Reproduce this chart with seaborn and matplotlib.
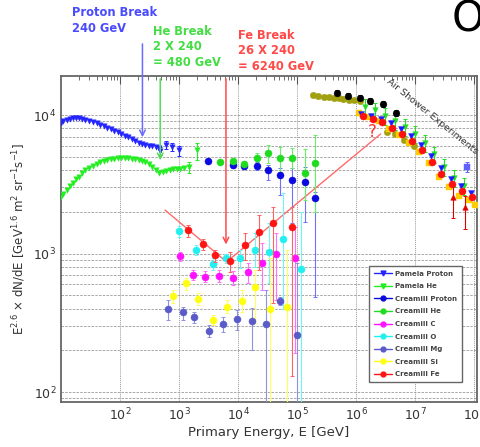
import numpy as np
import pandas as pd
import matplotlib
matplotlib.use("Agg")
import matplotlib.pyplot as plt
from matplotlib.lines import Line2D
from matplotlib.ticker import LogLocator, NullFormatter
import seaborn as sns

# ---------------- data ----------------
pam_p_E = [10, 11, 12.5, 14, 16, 18, 20, 23, 26, 30, 35, 40, 46, 53, 61, 70, 80, 92, 105, 120,
           138, 158, 180, 207, 237, 270, 310, 355, 405, 460]
pam_p_F = [8750, 9000, 9250, 9400, 9500, 9520, 9480, 9350, 9200, 9050, 8900, 8700, 8500, 8300, 8100,
           7900, 7700, 7500, 7300, 7100, 6900, 6700, 6500, 6300, 6150, 6050, 5990, 5960, 5920, 5800]
pam_p_E2 = [480, 600, 760, 1000]
pam_p_F2 = [5500, 6070, 5880, 5550]
pam_p_lo2 = [5150, 5700, 5500, 5100]
pam_p_hi2 = [5850, 6450, 6250, 6000]

pam_he_E = [10, 11, 12.5, 14, 16, 18, 20, 23, 26, 30, 35, 40, 46, 53, 61, 70, 80, 92, 105, 120,
            138, 158, 180, 207, 237, 270, 310, 355, 405, 460, 530, 610, 700, 800, 920, 1050, 1200]
pam_he_F = [2570, 2700, 2880, 3050, 3250, 3450, 3600, 3800, 3980, 4150, 4320, 4450, 4580, 4680, 4750,
            4800, 4850, 4880, 4900, 4900, 4880, 4830, 4780, 4720, 4650, 4550, 4400, 4250, 4000, 3800,
            3850, 3950, 4000, 4050, 4100, 4100, 4150]
pam_he_E2 = [1500, 2000]
pam_he_F2 = [4200, 5600]
pam_he_lo2 = [3800, 4700]
pam_he_hi2 = [4600, 6300]

cp_E = [3140, 8340, 12800, 20700, 32600, 51500, 81200, 137000, 202000]
cp_F = [4680, 4350, 4280, 4280, 4010, 3690, 3400, 3290, 2520]
cp_lo = [4500, 4150, 4050, 4000, 3400, 2640, 1660, 1700, 485]
cp_hi = [4850, 4550, 4500, 4550, 4350, 4120, 4140, 4200, 2800]

ch_E = [4950, 8340, 12800, 20700, 32600, 51500, 81200, 137000, 202000]
ch_F = [4600, 4650, 4420, 4870, 5290, 4900, 4900, 3800, 4480]
ch_lo = [4450, 4450, 4200, 4480, 4480, 3900, 4150, 2430, 1990]
ch_hi = [4750, 4850, 4650, 5300, 6070, 5900, 5800, 5700, 7180]

cc_E = [1040, 1710, 2760, 4820, 8340, 14600, 25100, 44100, 92500]
cc_F = [959, 700, 680, 690, 662, 731, 849, 986, 922]
cc_lo = [887, 644, 626, 626, 593, 610, 545, 461, 190]
cc_hi = [1030, 760, 745, 760, 745, 849, 1183, 1400, 1565]

co_E = [1000, 1940, 3720, 6260, 11000, 19400, 34000, 58600, 115000]
co_F = [1462, 1060, 839, 922, 922, 1060, 1030, 1265, 772]
co_lo = [1323, 975, 760, 849, 781, 803, 610, 400, 80]
co_hi = [1580, 1150, 922, 1000, 1060, 1400, 1650, 2740, 2000]

cm_E = [643, 1150, 1820, 3220, 5640, 9750, 17100, 29800, 51500, 101000]
cm_F = [395, 380, 346, 277, 310, 335, 328, 310, 456, 258]
cm_lo = [331, 331, 313, 251, 273, 281, 201, 80, 425, 80]
cm_hi = [461, 413, 380, 305, 350, 391, 402, 545, 488, 849]

cs_E = [782, 1315, 2120, 3720, 6430, 11500, 19400, 34800, 68600]
cs_F = [494, 615, 467, 331, 413, 456, 570, 395, 413]
cs_lo = [437, 545, 425, 305, 370, 380, 313, 80, 80]
cs_hi = [545, 662, 515, 360, 461, 545, 760, 922, 1060]

cf_E = [1440, 2580, 4070, 7310, 13100, 22700, 39700, 81200]
cf_F = [1478, 1165, 975, 887, 1160, 1438, 1653, 1546]
cf_lo = [1323, 1060, 873, 740, 897, 760, 437, 130]
cf_hi = [1607, 1266, 1060, 1030, 1400, 1897, 2180, 2180]

# air shower experiments
as_olive_E = [1.86e5, 2.3e5, 2.9e5, 3.5e5, 4.2e5, 5.1e5, 6.1e5, 7.6e5, 9.3e5, 1.17e6]
as_olive_F = [13900, 13700, 13500, 13400, 13300, 13200, 13000, 12900, 12800, 12700]
as_olive2_E = [3.3e6, 4.6e6, 6.5e6, 9.5e6]
as_olive2_F = [7600, 7300, 6600, 6000]
as_black_E = [4.8e5, 7.3e5, 1.17e6, 1.74e6, 2.9e6, 4.8e6]
as_black_F = [14400, 13700, 13300, 12600, 12000, 10300]
as_blue_E = [1.2e6, 1.8e6, 2.6e6, 3.9e6, 5.8e6, 8.5e6, 1.25e7, 1.85e7, 2.7e7, 4.0e7, 6.0e7, 8.8e7]
as_blue_F = [10200, 9800, 9300, 8700, 7900, 7100, 6100, 5100, 4150, 3450, 3050, 2750]
as_green_E = [1.4e6, 2.1e6, 3.1e6, 4.5e6, 6.7e6, 1.0e7, 1.45e7, 2.1e7, 3.1e7, 4.6e7, 6.8e7]
as_green_F = [11500, 10800, 9900, 9100, 8200, 7300, 6300, 5200, 4200, 3500, 3100]
as_yellow_E = [1.1e6, 1.6e6, 2.4e6, 3.6e6, 5.3e6, 8.0e6, 1.15e7, 1.7e7, 2.5e7, 3.7e7, 5.5e7, 8.1e7, 1.05e8]
as_yellow_F = [10300, 9700, 9000, 7900, 7200, 6300, 5400, 4500, 3600, 3000, 2600, 2450, 2250]
as_red_E = [1.3e6, 1.9e6, 2.8e6, 4.1e6, 6.1e6, 9.0e6, 1.3e7, 1.9e7, 2.8e7, 4.2e7, 6.2e7, 9.2e7]
as_red_F = [9900, 9400, 8900, 8100, 7300, 6500, 5600, 4600, 3750, 3200, 2850, 2550]
as_redtri_E = [4.4e7, 7.1e7]
as_redtri_F = [2560, 2160]
as_bluesq_E = [7.6e7]
as_bluesq_F = [4210]

# annotation guide (red V line) and break energies
vline_E = [580, 6400, 2.6e6]
vline_F = [2060, 870, 7300]
break_E = [240, 480, 6240]

x_ticks = [1e2, 1e3, 1e4, 1e5, 1e6, 1e7, 1e8]
x_ticklabels = [r"$10^{2}$", r"$10^{3}$", r"$10^{4}$", r"$10^{5}$", r"$10^{6}$", r"$10^{7}$", r"$10^{8}$"]

legend_labels = ["Pamela Proton", "Pamela He", "Creamill Proton", "Creamill He", "Creamill C",
                 "Creamill O", "Creamill Mg", "Creamill Si", "Creamill Fe"]

# ---------------- figure ----------------
sns.set_style("white")
plt.rcParams['font.family'] = ['DejaVu Sans']

W, H = 481, 447
fig = plt.figure(figsize=(W / 100, H / 100), dpi=100)
ax = fig.add_axes([61 / W, 1 - 402 / H, (477 - 61) / W, (402 - 76) / H])
ax.set_xscale("log")
ax.set_yscale("log")
ax.set_xlim(10, 1.12e8)
ax.set_ylim(84.7, 19150)

# ticks and grid
ax.yaxis.set_minor_locator(LogLocator(base=10, subs=np.arange(2, 10)))
ax.yaxis.set_minor_formatter(NullFormatter())
ax.set_xticks(x_ticks)
ax.set_xticklabels(x_ticklabels)
ax.xaxis.set_minor_locator(LogLocator(base=10, subs=np.arange(2, 10), numticks=12))
ax.xaxis.set_minor_formatter(NullFormatter())
ax.grid(True, which="both", axis="y", color="#9a9a9a", lw=0.6, ls=(0, (3, 1.5)))
ax.grid(True, which="major", axis="x", color="#9a9a9a", lw=0.7, ls=(0, (1, 1)))
ax.set_axisbelow(True)

ax.tick_params(which="both", direction="in", top=True, right=False, colors="#555555",
               labelcolor="#333333", labelsize=9)
ax.tick_params(which="major", length=6, width=0.8)
ax.tick_params(which="minor", length=3, width=0.6)
ax.tick_params(axis="y", which="minor", length=0)
for s in ax.spines.values():
    s.set_color("#666666")
    s.set_linewidth(1.3)

def series(E, F, color, marker, size, lo=None, hi=None, ecolor=None, z=3, elw=0.8):
    df = pd.DataFrame({"E": E, "F": F})
    if lo is not None:
        Fa = np.array(F, float)
        yerr = [Fa - np.array(lo, float), np.array(hi, float) - Fa]
        ax.errorbar(E, F, yerr=yerr, fmt="none", ecolor=ecolor or color, elinewidth=elw,
                    capsize=1.5, capthick=0.7, zorder=z - 0.5)
    sns.scatterplot(data=df, x="E", y="F", ax=ax, color=color, marker=marker, s=size,
                    edgecolor=color, linewidth=0.3, zorder=z, legend=False)

c_pp = "#2424ff"; c_ph = "#22ee22"; c_cp = "#0a0ae0"; c_ch = "#1fdc1f"
c_cc = "#ff10ff"; c_co = "#22f0f0"; c_cm = "#5a5ac8"; c_cs = "#ffff10"; c_cf = "#ff1414"

# Pamela
series(pam_p_E, pam_p_F, c_pp, "v", 15)
series(pam_p_E2, pam_p_F2, c_pp, "v", 15, pam_p_lo2, pam_p_hi2)
series(pam_he_E, pam_he_F, c_ph, "v", 15)
series(pam_he_E2, pam_he_F2, c_ph, "v", 15, pam_he_lo2, pam_he_hi2)

# Creamill
series(cp_E, cp_F, c_cp, "o", 26, cp_lo, cp_hi, ecolor="#7070ff", z=4)
series(ch_E, ch_F, c_ch, "o", 26, ch_lo, ch_hi, ecolor="#66ee66", z=4)
series(cc_E, cc_F, c_cc, "o", 26, cc_lo, cc_hi, ecolor="#ff70ff", z=4)
series(co_E, co_F, c_co, "o", 26, co_lo, co_hi, ecolor="#70f5f5", z=4)
series(cm_E, cm_F, c_cm, "o", 26, cm_lo, cm_hi, ecolor="#9090e0", z=4)
series(cs_E, cs_F, c_cs, "o", 26, cs_lo, cs_hi, ecolor="#ffff60", z=4)
series(cf_E, cf_F, c_cf, "o", 26, cf_lo, cf_hi, ecolor="#ff6060", z=5)

# Air shower experiments
series(as_olive_E, as_olive_F, "#a0a010", "o", 22, z=4)
series(as_black_E, as_black_F, "#000000", "o", 24,
       [f * 0.95 for f in as_black_F], [f * 1.05 for f in as_black_F], z=4)
series(as_olive2_E, as_olive2_F, "#a0a010", "o", 22, z=4)
series(as_yellow_E, as_yellow_F, "#ffcc00", "s", 20, z=4)
series(as_green_E, as_green_F, "#22dd22", "v", 16,
       [f * 0.86 for f in as_green_F], [f * 1.14 for f in as_green_F], z=4)
series(as_blue_E, as_blue_F, "#1a1aff", "v", 18, z=4.5)
series(as_red_E, as_red_F, "#ff1010", "o", 26, z=5)
series(as_redtri_E, as_redtri_F, "#dd0000", "^", 16,
       [f * 0.7 for f in as_redtri_F], [f * 1.2 for f in as_redtri_F], z=5)
series(as_bluesq_E, as_bluesq_F, "#6060ff", "s", 14,
       [f * 0.92 for f in as_bluesq_F], [f * 1.08 for f in as_bluesq_F], z=5)

# red V guide line and question mark
sns.lineplot(x=vline_E, y=vline_F, ax=ax, color="#ff6a6a", lw=1.0, zorder=3, sort=False)
ax.text(1.85e6, 7540, "?", color="#ff3030", fontsize=12, ha="center", va="center", zorder=6)

# break arrows
ax.annotate("", xy=(break_E[0], 6600), xytext=(break_E[0], 34200), xycoords="data",
            arrowprops=dict(arrowstyle="->", color="#6b6bff", lw=1.1, mutation_scale=10),
            annotation_clip=False, zorder=6)
ax.annotate("", xy=(break_E[1], 4500), xytext=(break_E[1], 19150),
            arrowprops=dict(arrowstyle="->", color="#55dd55", lw=1.1, mutation_scale=10),
            annotation_clip=False, zorder=6)
ax.annotate("", xy=(break_E[2], 1110), xytext=(break_E[2], 19150),
            arrowprops=dict(arrowstyle="->", color="#ff4a4a", lw=1.1, mutation_scale=10),
            annotation_clip=False, zorder=6)

def ftext(x, y, s, **kw):
    fig.text(x / W, 1 - y / H, s, **kw)

ftext(72, 6, "Proton Break\n240 GeV", color="#4a4aff", fontsize=8.3, fontweight="bold",
      va="top", ha="left", linespacing=1.25)
ftext(153, 25, "He Break\n2 X 240\n= 480 GeV", color="#44dd44", fontsize=8.3, fontweight="bold",
      va="top", ha="left", linespacing=1.25)
ftext(238, 29, "Fe Break\n26 X 240\n= 6240 GeV", color="#ff4a4a", fontsize=8.3, fontweight="bold",
      va="top", ha="left", linespacing=1.25)
ftext(432, 116, "Air Shower Experiments", color="#333333", fontsize=6.8, rotation=-39,
      ha="center", va="center", rotation_mode="anchor")
ftext(468, 20, "O", color="#000000", fontsize=30, ha="center", va="center")

# labels
ax.set_xlabel("Primary Energy, E [GeV]", fontsize=9.5, color="#333333", labelpad=2)
ax.set_ylabel(r"E$^{2.6}$ $\times$ dN/dE [GeV$^{1.6}$ m$^{2}$ sr$^{-1}$s$^{-1}$]", fontsize=8.5,
              color="#333333", labelpad=4)

# legend
handles = []
for lab, col, mk in zip(legend_labels,
                        [c_pp, c_ph, c_cp, c_ch, c_cc, c_co, c_cm, c_cs, c_cf],
                        ["v", "v", "o", "o", "o", "o", "o", "o", "o"]):
    handles.append(Line2D([0], [0], color=col, marker=mk, ms=3.5, lw=1.0, label=lab))
leg = ax.legend(handles=handles, loc="lower left", bbox_to_anchor=(0.733, 0.05),
                fontsize=5, frameon=True, fancybox=False, handlelength=2.6, labelspacing=0.95,
                borderpad=0.7, handletextpad=0.4, framealpha=1)
leg.get_frame().set_edgecolor("#666666")
leg.get_frame().set_linewidth(1.0)
for t in leg.get_texts():
    t.set_color("#444444")
    t.set_fontweight("bold")
leg.set_zorder(10)

fig.savefig("out.png", dpi=100)
